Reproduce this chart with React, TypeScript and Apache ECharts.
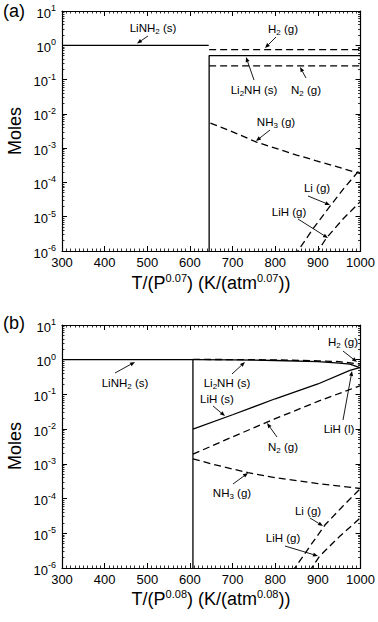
import React, { useEffect, useRef } from "react";
import * as echarts from "echarts";

const FONT = "Liberation Sans, Arial, Helvetica, sans-serif";

// ---------- Panel (a) data ----------
const A_LiNH2_T = [300, 644];
const A_LiNH2_N = [1, 1];
const A_Li2NH_T = [645, 645, 1000];
const A_Li2NH_N = [1e-9, 0.5, 0.5];
const A_H2_T = [645, 1000];
const A_H2_N = [0.75, 0.75];
const A_N2_T = [645, 1000];
const A_N2_N = [0.25, 0.25];
const A_NH3_T = [648, 700, 756, 850, 1000];
const A_NH3_N = [5.4e-3, 3.0e-3, 1.5e-3, 6.3e-4, 1.8e-4];
const A_Li_T = [845, 890, 928, 960, 1000];
const A_Li_N = [7.2e-7, 4.7e-6, 2.0e-5, 6.5e-5, 2.5e-4];
const A_LiH_T = [895, 920, 960, 1000];
const A_LiH_N = [8e-7, 2.4e-6, 8.9e-6, 2.8e-5];

// ---------- Panel (b) data ----------
const B_LiNH2_T = [300, 607, 607];
const B_LiNH2_N = [1, 1, 1e-9];
const B_Li2NH_T = [607, 700, 800, 900, 950, 975, 1000];
const B_Li2NH_N = [1, 0.99, 0.95, 0.88, 0.8, 0.75, 0.58];
const B_H2_T = [607, 700, 800, 900, 950, 1000];
const B_H2_N = [1.02, 1.01, 0.99, 0.93, 0.88, 0.75];
const B_LiHs_T = [607, 700, 800, 900, 975];
const B_LiHs_N = [0.01, 0.026, 0.075, 0.2, 0.49];
const B_LiHl_T = [975, 1000];
const B_LiHl_N = [0.49, 0.6];
const B_N2_T = [607, 700, 800, 900, 1000];
const B_N2_N = [1.9e-3, 6.0e-3, 0.02, 0.063, 0.18];
const B_NH3_T = [607, 650, 700, 736, 800, 900, 1000];
const B_NH3_N = [1.4e-3, 1.0e-3, 7.1e-4, 5.6e-4, 4.0e-4, 2.7e-4, 1.95e-4];
const B_Li_T = [840, 880, 916, 960, 1000];
const B_Li_N = [7.9e-7, 4.0e-6, 1.7e-5, 6.3e-5, 1.95e-4];
const B_LiH_T = [880, 904, 950, 1000];
const B_LiH_N = [7.9e-7, 2.2e-6, 7.9e-6, 2.8e-5];

const X_MIN = 300;
const X_MAX = 1000;
const X_STEP = 100;
const Y_MIN = 1e-6;
const Y_MAX = 10;

const zip = (xs: number[], ys: number[]) => xs.map((x, i) => [x, ys[i]]);

function App() {
  const ref = useRef<HTMLDivElement>(null);
  useEffect(() => {
    if (!ref.current) return;
    const chart = echarts.init(ref.current, null, { renderer: "svg" });

    const grids = [
      { left: 62, top: 11, width: 299, height: 240 },
      { left: 62, top: 325, width: 299, height: 243 },
    ];

    const axisLineStyle = { color: "#000", width: 1.2 };
    const xAxis = (g: number, pos: string, labels: boolean) => ({
      type: "value",
      gridIndex: g,
      position: pos,
      min: X_MIN,
      max: X_MAX,
      interval: X_STEP,
      axisLine: { show: true, onZero: false, lineStyle: axisLineStyle },
      axisTick: { show: true, inside: true, length: 5, lineStyle: { color: "#000", width: 1 } },
      minorTick: { show: true, splitNumber: 10, length: 2.5, lineStyle: { color: "#000", width: 0.8 } },
      axisLabel: {
        show: labels,
        color: "#000",
        fontSize: 13,
        margin: 5,
        fontFamily: FONT,
        formatter: (v: number) => String(v),
      },
      splitLine: { show: false },
      minorSplitLine: { show: false },
    });
    const yAxis = (g: number, pos: string, labels: boolean) => ({
      type: "log",
      logBase: 10,
      gridIndex: g,
      position: pos,
      min: Y_MIN,
      max: Y_MAX,
      axisLine: { show: true, onZero: false, lineStyle: axisLineStyle },
      axisTick: { show: true, inside: true, length: 5, lineStyle: { color: "#000", width: 1 } },
      minorTick: { show: true, splitNumber: 9, length: 2.5, lineStyle: { color: "#000", width: 0.8 } },
      axisLabel: {
        show: labels,
        margin: 6,
        formatter: (v: number) => "{b|10}{s|" + Math.round(Math.log10(v)) + "}",
        rich: {
          b: { fontSize: 13, lineHeight: 15, fontFamily: FONT, color: "#000", padding: [4, 0, 0, 0] },
          s: { fontSize: 9, lineHeight: 6, fontFamily: FONT, color: "#000", verticalAlign: "top" },
        },
      },
      splitLine: { show: false },
      minorSplitLine: { show: false },
    });

    const line = (g: number, xs: number[], ys: number[], dashed: boolean) => ({
      type: "line",
      xAxisIndex: g * 2,
      yAxisIndex: g * 2,
      data: zip(xs, ys),
      showSymbol: false,
      symbol: "none",
      silent: true,
      clip: true,
      lineStyle: { color: "#000", width: 1.3, type: dashed ? [7, 4] : "solid" },
      z: 3,
    });

    const sub = {
      n: { fontSize: 11.5, lineHeight: 14, fontFamily: FONT, color: "#000" },
      d: { fontSize: 8, lineHeight: 6, fontFamily: FONT, color: "#000", verticalAlign: "bottom" },
    };
    const label = (x: number, y: number, text: string) => ({
      type: "text",
      x,
      y,
      silent: true,
      style: { text, rich: sub, align: "center", verticalAlign: "middle", fill: "#000", font: "11.5px " + FONT },
    });
    const arrow = (x1: number, y1: number, x2: number, y2: number) => {
      const dx = x2 - x1, dy = y2 - y1;
      const L = Math.sqrt(dx * dx + dy * dy);
      const ux = dx / L, uy = dy / L;
      const hl = 5, hw = 2;
      const bx = x2 - ux * hl, by = y2 - uy * hl;
      return [
        { type: "line", silent: true, shape: { x1, y1, x2: bx, y2: by }, style: { stroke: "#000", lineWidth: 0.9 } },
        {
          type: "polygon",
          silent: true,
          shape: { points: [[x2, y2], [bx - uy * hw, by + ux * hw], [bx + uy * hw, by - ux * hw]] },
          style: { fill: "#000" },
        },
      ];
    };

    const titleRich = {
      m: { fontSize: 18, lineHeight: 22, fontFamily: FONT, color: "#000" },
      p: { fontSize: 11, lineHeight: 9, fontFamily: FONT, color: "#000", verticalAlign: "top" },
    };
    const xTitle = (y: number, e: string) => ({
      type: "text",
      x: 211,
      y,
      silent: true,
      style: {
        text: "{m|T/(P}{p|" + e + "}{m|) (K/(atm}{p|" + e + "}{m|))}",
        rich: titleRich,
        align: "center",
        verticalAlign: "middle",
        fill: "#000",
      },
    });
    const big = (x: number, y: number, text: string, rot = 0) => ({
      type: "text",
      x,
      y,
      rotation: rot,
      silent: true,
      style: { text, align: "center", verticalAlign: "middle", fill: "#000", font: "18px " + FONT },
    });

    const graphic = [
      big(14, 11, "(a)"),
      big(14, 323, "(b)"),
      big(15, 131, "Moles", Math.PI / 2),
      big(15, 446, "Moles", Math.PI / 2),
      xTitle(283, "0.07"),
      xTitle(599, "0.08"),
      // panel (a) annotations
      label(153, 28, "{n|LiNH}{d|2}{n| (s)}"),
      ...arrow(148, 36, 137, 43.5),
      label(283, 29, "{n|H}{d|2}{n| (g)}"),
      ...arrow(276, 37, 265, 48),
      label(254, 90, "{n|Li}{d|2}{n|NH (s)}"),
      ...arrow(254, 80, 246, 57),
      label(306, 90, "{n|N}{d|2}{n| (g)}"),
      ...arrow(306, 78, 300, 67),
      label(276, 122, "{n|NH}{d|3}{n| (g)}"),
      ...arrow(270, 130, 256, 141),
      label(317, 188, "{n|Li (g)}"),
      ...arrow(308, 196, 330, 205),
      label(289, 212, "{n|LiH (g)}"),
      ...arrow(298, 219, 328, 238),
      // panel (b) annotations
      label(343, 342, "{n|H}{d|2}{n| (g)}"),
      ...arrow(343, 351, 357, 362),
      label(125, 383, "{n|LiNH}{d|2}{n| (s)}"),
      ...arrow(115, 373, 135, 362),
      label(227, 383, "{n|Li}{d|2}{n|NH (s)}"),
      ...arrow(232, 374, 245, 362),
      label(217, 399, "{n|LiH (s)}"),
      ...arrow(213, 406, 225, 416),
      label(283, 447, "{n|N}{d|2}{n| (g)}"),
      ...arrow(277, 437, 267, 423),
      label(339, 429, "{n|LiH (l)}"),
      ...arrow(343, 420, 352, 371),
      label(232, 493, "{n|NH}{d|3}{n| (g)}"),
      ...arrow(233, 484, 248, 473),
      label(308, 511, "{n|Li (g)}"),
      ...arrow(310, 518, 323, 526),
      label(283, 538, "{n|LiH (g)}"),
      ...arrow(285, 546, 318, 556),
    ];

    chart.setOption({
      animation: false,
      grid: grids,
      xAxis: [xAxis(0, "bottom", true), xAxis(0, "top", false), xAxis(1, "bottom", true), xAxis(1, "top", false)],
      yAxis: [yAxis(0, "left", true), yAxis(0, "right", false), yAxis(1, "left", true), yAxis(1, "right", false)],
      series: [
        line(0, A_LiNH2_T, A_LiNH2_N, false),
        line(0, A_Li2NH_T, A_Li2NH_N, false),
        line(0, A_H2_T, A_H2_N, true),
        line(0, A_N2_T, A_N2_N, true),
        line(0, A_NH3_T, A_NH3_N, true),
        line(0, A_Li_T, A_Li_N, true),
        line(0, A_LiH_T, A_LiH_N, true),
        line(1, B_LiNH2_T, B_LiNH2_N, false),
        line(1, B_Li2NH_T, B_Li2NH_N, false),
        line(1, B_H2_T, B_H2_N, true),
        line(1, B_LiHs_T, B_LiHs_N, false),
        line(1, B_LiHl_T, B_LiHl_N, false),
        line(1, B_N2_T, B_N2_N, true),
        line(1, B_NH3_T, B_NH3_N, true),
        line(1, B_Li_T, B_Li_N, true),
        line(1, B_LiH_T, B_LiH_N, true),
      ],
      graphic,
    });
    return () => chart.dispose();
  }, []);
  return (
    <div
      ref={ref}
      style={{ position: "fixed", left: 0, top: 0, width: 378, height: 622, background: "#fff" }}
    />
  );
}

export default App;
